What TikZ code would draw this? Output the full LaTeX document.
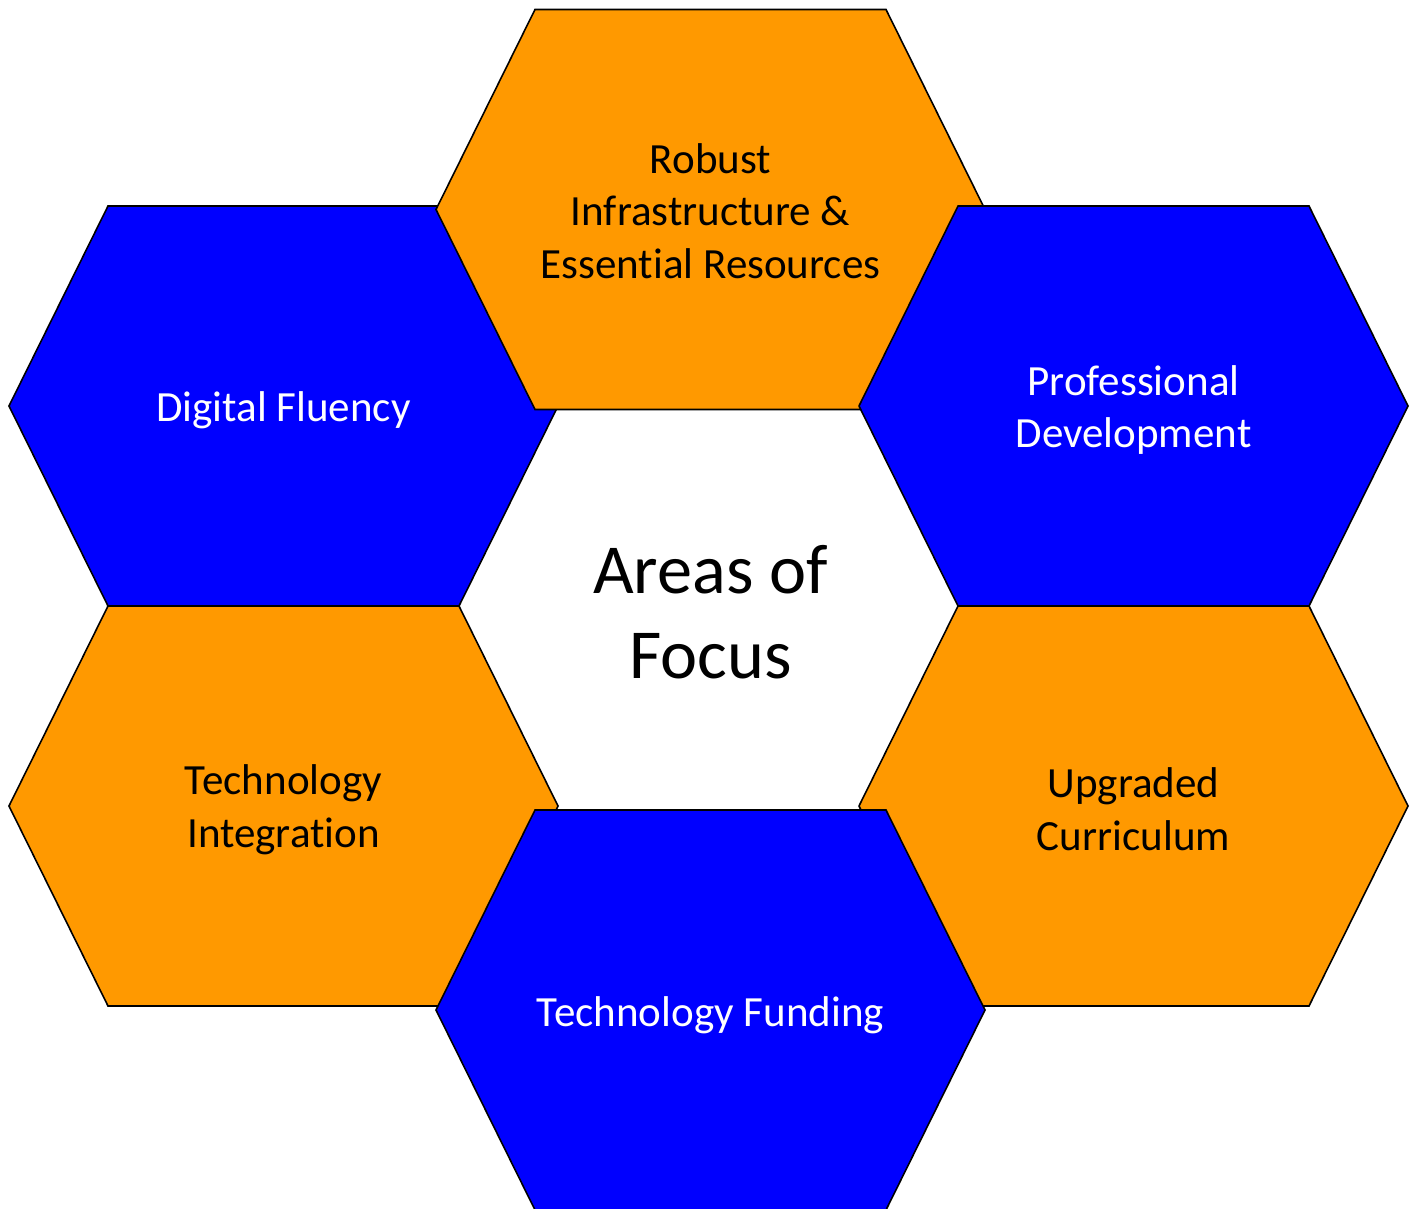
\documentclass[tikz,border=0pt]{standalone}
\usepackage{fontspec}
\setmainfont{Carlito}[Ligatures=NoCommon]
\usetikzlibrary{positioning}
\definecolor{focusorange}{RGB}{255,153,0}
\definecolor{focusblue}{RGB}{0,0,255}
\tikzset{
  cell/.style={draw=black, line width=0.9pt, line join=miter},
  orangecell/.style={cell, fill=focusorange},
  bluecell/.style={cell, fill=focusblue},
  celltext/.style={align=center, font=\fontsize{24.5}{30}\selectfont},
  focustext/.style={align=center, font=\fontsize{40}{48}\selectfont},
}
% one hexagon cell, centred on a named coordinate
\newcommand{\hexcell}[2]{%
  \draw[#1, shift={(#2)}] (-274.5,0) -- (-175.5,-200) -- (175.5,-200)
    -- (274.5,0) -- (175.5,200) -- (-175.5,200) -- cycle;
}

\begin{document}
\begin{tikzpicture}[x=0.02cm, y=-0.02cm]
      \clip (0,0) rectangle (1416,1209);

      \coordinate (robust) at (710.5,209.5);
      \coordinate (fluency) at (283.5,406);
      \coordinate (profdev) at (1133.5,406);
      \coordinate (integration) at (283.5,806);
      \coordinate (curriculum) at (1133.5,806);
      \coordinate (funding) at (710.5,1010);

      \hexcell{bluecell}{fluency}
      \hexcell{orangecell}{robust}
      \hexcell{bluecell}{profdev}
      \hexcell{orangecell}{integration}
      \hexcell{orangecell}{curriculum}
      \hexcell{bluecell}{funding}

      \node[celltext] (robusttext) at (710.5,211) {Robust\\Infrastructure \&\\Essential Resources};
      \node[celltext, text=white] (fluencytext) at (283.5,410) {Digital Fluency};
      \node[celltext, text=white] (profdevtext) at (1133.5,410) {Professional\\Development};
      \node[celltext] (integrationtext) at (283.5,810) {Technology\\Integration};
      \node[celltext] (curriculumtext) at (1133.5,809) {Upgraded\\Curriculum};
      \node[celltext, text=white] (fundingtext) at (710.5,1015) {Technology Funding};
      \node[focustext] (focus) at (710.5,612) {Areas of\\Focus};
    \end{tikzpicture}
\end{document}
